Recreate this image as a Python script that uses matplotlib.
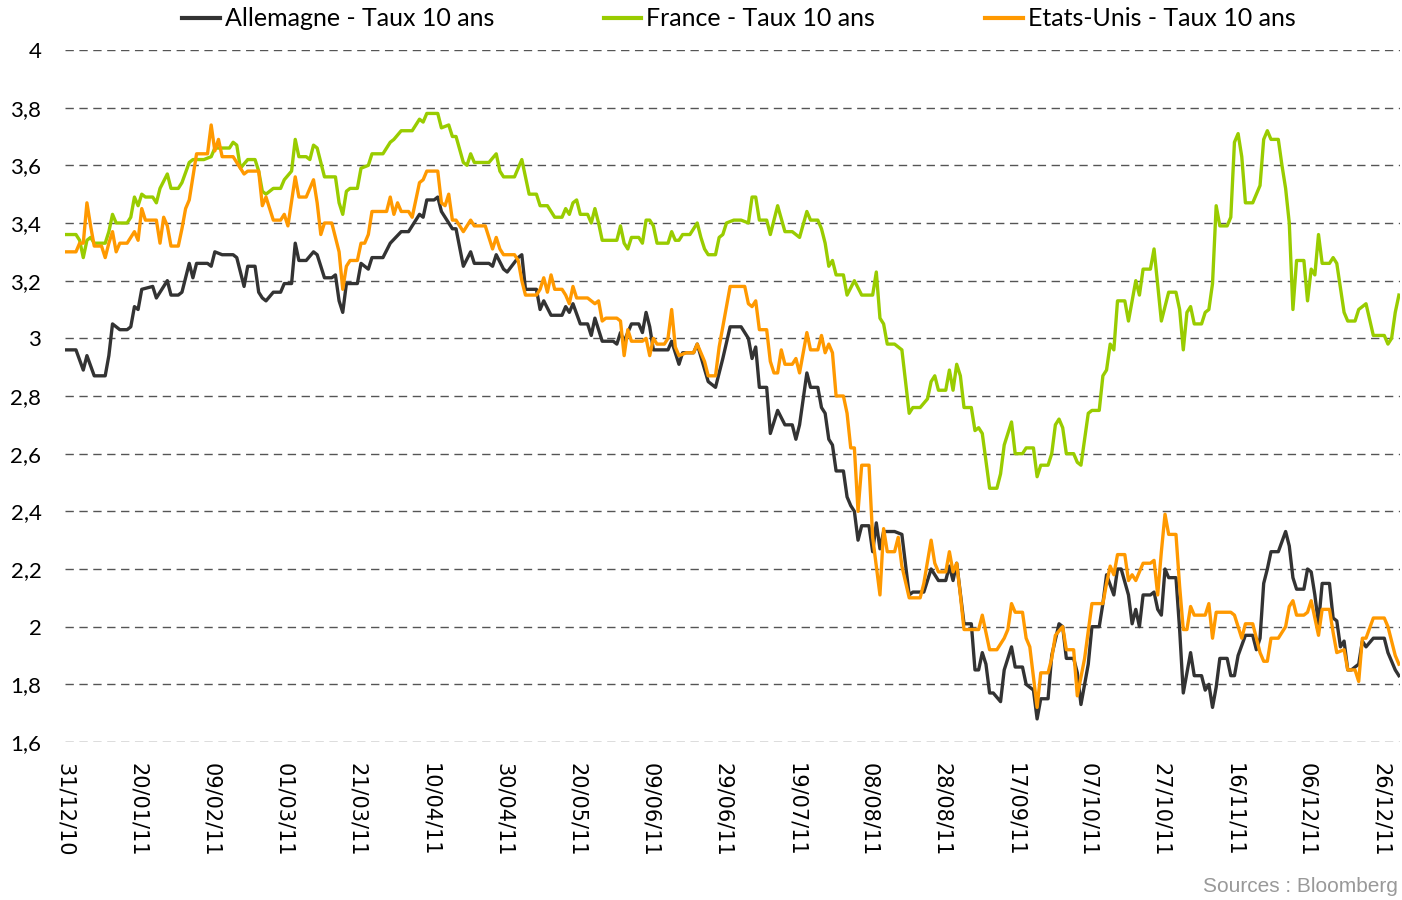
import matplotlib
matplotlib.use("Agg")
import matplotlib.pyplot as plt
import matplotlib.dates as mdates
import pandas as pd

# Day offsets from 31/12/2010 and 10-year yields (%)
start = pd.Timestamp("2010-12-31")

de_days = [0, 3, 5, 6, 8, 11, 12, 13, 15, 17, 18, 19, 20, 21, 24, 25, 28, 29, 31, 32,
           34, 35, 36, 39, 40, 41, 43, 46, 47, 49, 50, 52, 53, 54, 55, 57, 59, 60, 62, 63,
           64, 66, 68, 69, 71, 73, 74, 75, 76, 77, 80, 81, 83, 84, 87, 89, 92, 94, 97, 98,
           99, 101, 102, 103, 104, 106, 107, 109, 111, 112, 116, 117, 118, 120, 121, 124, 125, 126, 129, 130,
           131, 133, 136, 137, 138, 139, 141, 143, 144, 145, 147, 150, 151, 152, 153, 155, 157, 158, 159, 160,
           161, 165, 166, 168, 169, 172, 173, 176, 178, 180, 182, 185, 187, 188, 189, 190, 192, 193, 195, 197,
           199, 200, 201, 203, 204, 206, 207, 208, 209, 210, 211, 213, 214, 215, 216, 217, 218, 220, 221, 222,
           223, 224, 227, 229, 231, 232, 235, 237, 239, 241, 242, 243, 244, 246, 248, 249, 250, 251, 252, 253,
           254, 256, 257, 259, 260, 262, 263, 265, 266, 267, 269, 270, 272, 273, 274, 276, 277, 278, 280, 281,
           283, 284, 285, 287, 288, 289, 291, 292, 293, 294, 295, 297, 298, 299, 300, 301, 302, 304, 305, 306,
           308, 309, 311, 312, 313, 314, 315, 316, 318, 319, 320, 321, 323, 325, 326, 327, 328, 329, 330, 332,
           334, 335, 336, 337, 339, 340, 341, 342, 343, 344, 346, 347, 348, 349, 350, 351, 352, 354, 355, 356,
           358, 361, 362, 364, 365]
de_vals = [2.96, 2.96, 2.89, 2.94, 2.87, 2.87, 2.94, 3.05, 3.03, 3.03, 3.04, 3.11, 3.10, 3.17, 3.18, 3.14, 3.20, 3.15, 3.15, 3.16,
           3.26, 3.21, 3.26, 3.26, 3.25, 3.30, 3.29, 3.29, 3.28, 3.18, 3.25, 3.25, 3.16, 3.14, 3.13, 3.16, 3.16, 3.19, 3.19, 3.33,
           3.27, 3.27, 3.30, 3.29, 3.21, 3.21, 3.22, 3.13, 3.09, 3.19, 3.19, 3.26, 3.24, 3.28, 3.28, 3.33, 3.37, 3.37, 3.43, 3.42,
           3.48, 3.48, 3.49, 3.44, 3.42, 3.38, 3.38, 3.25, 3.30, 3.26, 3.26, 3.25, 3.29, 3.24, 3.23, 3.28, 3.29, 3.17, 3.17, 3.10,
           3.13, 3.08, 3.08, 3.11, 3.09, 3.12, 3.05, 3.05, 3.01, 3.07, 2.99, 2.99, 2.98, 3.02, 2.99, 3.05, 3.05, 3.02, 3.09, 3.04,
           2.96, 2.96, 2.99, 2.91, 2.95, 2.95, 2.98, 2.85, 2.83, 2.93, 3.04, 3.04, 3.00, 2.93, 2.97, 2.83, 2.83, 2.67, 2.75, 2.70,
           2.70, 2.65, 2.70, 2.88, 2.83, 2.83, 2.76, 2.74, 2.65, 2.63, 2.54, 2.54, 2.45, 2.42, 2.40, 2.30, 2.35, 2.35, 2.26, 2.36,
           2.27, 2.33, 2.33, 2.32, 2.11, 2.12, 2.12, 2.20, 2.16, 2.16, 2.21, 2.16, 2.22, 2.01, 2.01, 1.85, 1.85, 1.91, 1.87, 1.77,
           1.77, 1.74, 1.85, 1.93, 1.86, 1.86, 1.80, 1.78, 1.68, 1.75, 1.75, 1.90, 2.01, 2.00, 1.89, 1.89, 1.84, 1.73, 1.87, 2.00,
           2.00, 2.08, 2.18, 2.11, 2.20, 2.20, 2.11, 2.01, 2.06, 2.00, 2.11, 2.11, 2.12, 2.06, 2.04, 2.20, 2.17, 2.17, 1.99, 1.77,
           1.91, 1.83, 1.83, 1.78, 1.80, 1.72, 1.79, 1.89, 1.89, 1.83, 1.83, 1.90, 1.97, 1.97, 1.92, 1.96, 2.15, 2.20, 2.26, 2.26,
           2.33, 2.28, 2.17, 2.13, 2.13, 2.20, 2.19, 2.11, 2.01, 2.15, 2.15, 2.03, 2.02, 1.93, 1.95, 1.85, 1.85, 1.87, 1.95, 1.93,
           1.96, 1.96, 1.91, 1.85, 1.83]

fr_days = [0, 3, 4, 5, 6, 7, 8, 11, 12, 13, 14, 17, 18, 19, 20, 21, 22, 24, 25, 26,
           28, 29, 31, 32, 34, 35, 38, 40, 41, 45, 46, 47, 48, 50, 52, 53, 54, 55, 57, 59,
           60, 62, 63, 64, 66, 67, 68, 69, 70, 71, 74, 75, 76, 77, 78, 80, 81, 83, 84, 87,
           89, 90, 92, 94, 95, 97, 98, 99, 102, 103, 105, 106, 107, 109, 110, 111, 112, 116, 118, 119,
           120, 123, 124, 125, 127, 129, 130, 131, 132, 134, 136, 137, 138, 139, 140, 141, 143, 144, 145, 146,
           147, 150, 151, 152, 153, 154, 155, 157, 158, 159, 160, 161, 162, 165, 166, 167, 168, 169, 171, 173,
           174, 175, 176, 178, 179, 180, 181, 183, 185, 187, 188, 189, 190, 192, 193, 195, 197, 199, 201, 203,
           204, 206, 207, 208, 209, 210, 211, 213, 214, 216, 218, 221, 222, 223, 224, 225, 227, 229, 231, 232,
           234, 236, 237, 238, 239, 241, 242, 243, 244, 245, 246, 248, 249, 250, 251, 253, 255, 256, 257, 259,
           260, 262, 263, 265, 266, 267, 269, 270, 271, 272, 273, 274, 276, 277, 278, 279, 280, 281, 283, 284,
           285, 286, 287, 288, 290, 291, 293, 294, 295, 297, 298, 300, 302, 304, 305, 306, 307, 308, 309, 311,
           312, 313, 314, 315, 316, 318, 319, 320, 321, 322, 323, 325, 327, 328, 329, 330, 332, 333, 334, 335,
           336, 337, 339, 340, 341, 342, 343, 344, 346, 347, 348, 350, 351, 353, 354, 356, 358, 361, 362, 363,
           364, 365]
fr_vals = [3.36, 3.36, 3.34, 3.28, 3.34, 3.35, 3.33, 3.33, 3.37, 3.43, 3.40, 3.40, 3.42, 3.49, 3.46, 3.50, 3.49, 3.49, 3.47, 3.52,
           3.57, 3.52, 3.52, 3.54, 3.61, 3.62, 3.62, 3.63, 3.66, 3.66, 3.68, 3.67, 3.59, 3.62, 3.62, 3.58, 3.51, 3.50, 3.52, 3.52,
           3.55, 3.58, 3.69, 3.63, 3.63, 3.62, 3.67, 3.66, 3.61, 3.56, 3.56, 3.47, 3.43, 3.51, 3.52, 3.52, 3.59, 3.60, 3.64, 3.64,
           3.68, 3.69, 3.72, 3.72, 3.72, 3.76, 3.75, 3.78, 3.78, 3.73, 3.74, 3.70, 3.70, 3.61, 3.60, 3.64, 3.61, 3.61, 3.64, 3.58,
           3.56, 3.56, 3.59, 3.62, 3.50, 3.50, 3.46, 3.46, 3.46, 3.42, 3.42, 3.45, 3.43, 3.47, 3.48, 3.43, 3.43, 3.40, 3.45, 3.40,
           3.34, 3.34, 3.34, 3.39, 3.33, 3.31, 3.35, 3.35, 3.33, 3.41, 3.41, 3.39, 3.33, 3.33, 3.37, 3.34, 3.34, 3.36, 3.36, 3.40,
           3.35, 3.31, 3.29, 3.29, 3.35, 3.36, 3.40, 3.41, 3.41, 3.40, 3.49, 3.49, 3.41, 3.41, 3.36, 3.46, 3.37, 3.37, 3.35, 3.44,
           3.41, 3.41, 3.38, 3.33, 3.25, 3.27, 3.22, 3.22, 3.15, 3.20, 3.15, 3.15, 3.23, 3.07, 3.05, 2.98, 2.98, 2.96, 2.74, 2.76,
           2.76, 2.79, 2.85, 2.87, 2.82, 2.82, 2.89, 2.82, 2.91, 2.87, 2.76, 2.76, 2.68, 2.69, 2.67, 2.48, 2.48, 2.53, 2.63, 2.71,
           2.60, 2.60, 2.62, 2.62, 2.52, 2.56, 2.56, 2.60, 2.70, 2.72, 2.69, 2.60, 2.60, 2.57, 2.56, 2.65, 2.74, 2.75, 2.75, 2.87,
           2.89, 2.98, 2.96, 3.13, 3.13, 3.06, 3.20, 3.15, 3.24, 3.24, 3.31, 3.06, 3.16, 3.16, 3.10, 2.96, 3.09, 3.11, 3.05, 3.05,
           3.09, 3.10, 3.19, 3.46, 3.39, 3.39, 3.42, 3.68, 3.71, 3.63, 3.47, 3.47, 3.53, 3.69, 3.72, 3.69, 3.69, 3.60, 3.52, 3.40,
           3.10, 3.27, 3.27, 3.13, 3.24, 3.22, 3.36, 3.26, 3.26, 3.28, 3.26, 3.09, 3.06, 3.06, 3.10, 3.12, 3.01, 3.01, 2.98, 3.00,
           3.09, 3.15]

us_days = [0, 3, 4, 5, 6, 7, 8, 10, 11, 12, 13, 14, 15, 17, 19, 20, 21, 22, 25, 26,
           27, 28, 29, 31, 32, 33, 34, 36, 39, 40, 41, 42, 43, 46, 47, 49, 50, 53, 54, 55,
           57, 59, 60, 61, 63, 64, 66, 68, 69, 70, 71, 73, 74, 75, 76, 77, 78, 80, 81, 82,
           83, 84, 88, 89, 90, 91, 92, 94, 95, 97, 98, 99, 101, 102, 103, 104, 105, 106, 107, 109,
           111, 112, 115, 117, 118, 119, 120, 123, 124, 125, 126, 129, 130, 131, 132, 133, 134, 136, 137, 138,
           139, 140, 143, 145, 146, 147, 148, 151, 152, 153, 154, 155, 158, 159, 160, 161, 162, 164, 165, 166,
           167, 168, 170, 172, 173, 175, 176, 178, 179, 181, 182, 186, 187, 188, 189, 190, 192, 193, 194, 195,
           196, 197, 199, 200, 201, 203, 204, 206, 207, 208, 209, 210, 211, 213, 214, 215, 216, 217, 218, 220,
           221, 223, 224, 225, 227, 228, 229, 231, 234, 235, 237, 238, 239, 241, 242, 243, 244, 245, 246, 250,
           251, 253, 255, 257, 258, 259, 260, 262, 263, 264, 266, 267, 269, 270, 271, 273, 274, 276, 277, 279,
           281, 284, 285, 286, 287, 288, 290, 291, 292, 293, 295, 297, 298, 299, 300, 301, 302, 304, 305, 306,
           307, 308, 309, 312, 313, 314, 315, 319, 320, 322, 323, 325, 326, 327, 328, 329, 330, 332, 334, 335,
           336, 337, 339, 340, 341, 343, 344, 346, 347, 348, 350, 351, 353, 354, 355, 356, 358, 361, 362, 364,
           365]
us_vals = [3.30, 3.30, 3.33, 3.33, 3.47, 3.39, 3.32, 3.32, 3.28, 3.33, 3.37, 3.30, 3.33, 3.33, 3.37, 3.34, 3.45, 3.41, 3.41, 3.33,
           3.42, 3.39, 3.32, 3.32, 3.38, 3.45, 3.48, 3.64, 3.64, 3.74, 3.65, 3.69, 3.63, 3.63, 3.61, 3.57, 3.58, 3.58, 3.46, 3.49,
           3.41, 3.41, 3.43, 3.39, 3.56, 3.49, 3.49, 3.55, 3.47, 3.36, 3.40, 3.40, 3.35, 3.30, 3.17, 3.25, 3.27, 3.27, 3.33, 3.33,
           3.36, 3.44, 3.44, 3.49, 3.43, 3.47, 3.44, 3.44, 3.42, 3.54, 3.55, 3.58, 3.58, 3.58, 3.47, 3.46, 3.50, 3.41, 3.41, 3.37,
           3.41, 3.39, 3.39, 3.31, 3.35, 3.31, 3.29, 3.29, 3.27, 3.20, 3.15, 3.15, 3.17, 3.21, 3.16, 3.22, 3.17, 3.17, 3.15, 3.12,
           3.18, 3.14, 3.14, 3.12, 3.13, 3.06, 3.07, 3.07, 3.06, 2.94, 3.03, 2.99, 2.99, 3.00, 2.94, 3.00, 2.98, 2.98, 3.00, 3.10,
           2.97, 2.94, 2.95, 2.95, 2.98, 2.92, 2.87, 2.87, 2.97, 3.11, 3.18, 3.18, 3.12, 3.11, 3.13, 3.03, 3.03, 2.92, 2.88, 2.88,
           2.96, 2.91, 2.91, 2.93, 2.88, 3.02, 2.96, 2.96, 3.01, 2.95, 2.98, 2.95, 2.80, 2.80, 2.74, 2.62, 2.62, 2.40, 2.56, 2.56,
           2.31, 2.11, 2.34, 2.26, 2.26, 2.31, 2.21, 2.10, 2.10, 2.15, 2.30, 2.22, 2.19, 2.19, 2.26, 2.19, 2.22, 2.11, 1.99, 1.99,
           2.04, 1.92, 1.92, 1.96, 1.99, 2.08, 2.05, 2.05, 1.96, 1.93, 1.72, 1.84, 1.84, 1.89, 1.97, 2.00, 1.92, 1.92, 1.76, 1.89,
           2.08, 2.08, 2.15, 2.21, 2.18, 2.25, 2.25, 2.16, 2.18, 2.16, 2.22, 2.22, 2.23, 2.11, 2.26, 2.39, 2.32, 2.32, 2.14, 1.99,
           1.99, 2.07, 2.04, 2.04, 2.08, 1.96, 2.05, 2.05, 2.04, 1.96, 2.01, 2.01, 1.96, 1.91, 1.88, 1.88, 1.96, 1.96, 2.00, 2.07,
           2.09, 2.04, 2.04, 2.05, 2.09, 1.97, 2.06, 2.06, 1.98, 1.91, 1.92, 1.85, 1.85, 1.81, 1.96, 1.96, 2.03, 2.03, 2.00, 1.90,
           1.87]

series = [
    ("Allemagne - Taux 10 ans", de_days, de_vals, "#333333"),
    ("France - Taux 10 ans", fr_days, fr_vals, "#99CC00"),
    ("Etats-Unis - Taux 10 ans", us_days, us_vals, "#FF9900"),
]

yticks = [1.6, 1.8, 2.0, 2.2, 2.4, 2.6, 2.8, 3.0, 3.2, 3.4, 3.6, 3.8, 4.0]
ytick_labels = ["1,6", "1,8", "2", "2,2", "2,4", "2,6", "2,8", "3", "3,2", "3,4", "3,6", "3,8", "4"]
xticks = pd.date_range(start, periods=19, freq="20D")

fig = plt.figure(figsize=(14.02, 9.0), dpi=100)
ax = fig.add_axes([65 / 1402, 1 - 742 / 900, 1335 / 1402, 692 / 900])

for label, days, vals, color in series:
    dates = start + pd.to_timedelta(days, unit="D")
    ax.plot(dates, vals, color=color, lw=2.4, label=label, solid_joinstyle="round")

ax.set_ylim(1.6, 4.0)
ax.set_xlim(start, start + pd.Timedelta(days=365.3))
ax.set_yticks(yticks)
ax.set_yticklabels(ytick_labels, fontfamily="Lato", fontsize=16)
ax.set_xticks(xticks)
ax.xaxis.set_major_formatter(mdates.DateFormatter("%d/%m/%y"))
for t in ax.get_xticklabels():
    t.set_rotation(-90)
    t.set_fontfamily("DejaVu Sans")
    t.set_fontsize(15)
    t.set_va("top")
    t.set_ha("center")
ax.tick_params(axis="both", length=0)
ax.tick_params(axis="y", pad=17)
ax.tick_params(axis="x", pad=15)
for s in ax.spines.values():
    s.set_visible(False)
ax.yaxis.grid(True, color="#555555", lw=1.0, linestyle=(0, (6, 4)))
ax.set_axisbelow(True)

leg = fig.legend(loc="center", bbox_to_anchor=(0.527, 0.979), ncol=3, frameon=False,
                 prop={"family": "Lato", "size": 18}, handlelength=1.5, handletextpad=0.2,
                 columnspacing=4.4)
for h in leg.get_lines():
    h.set_linewidth(3.0)

fig.text(0.997, 0.004, "Sources : Bloomberg", ha="right", va="bottom",
         color="#999999", fontsize=15, fontfamily="Liberation Sans")

fig.savefig("out.png", dpi=100)
